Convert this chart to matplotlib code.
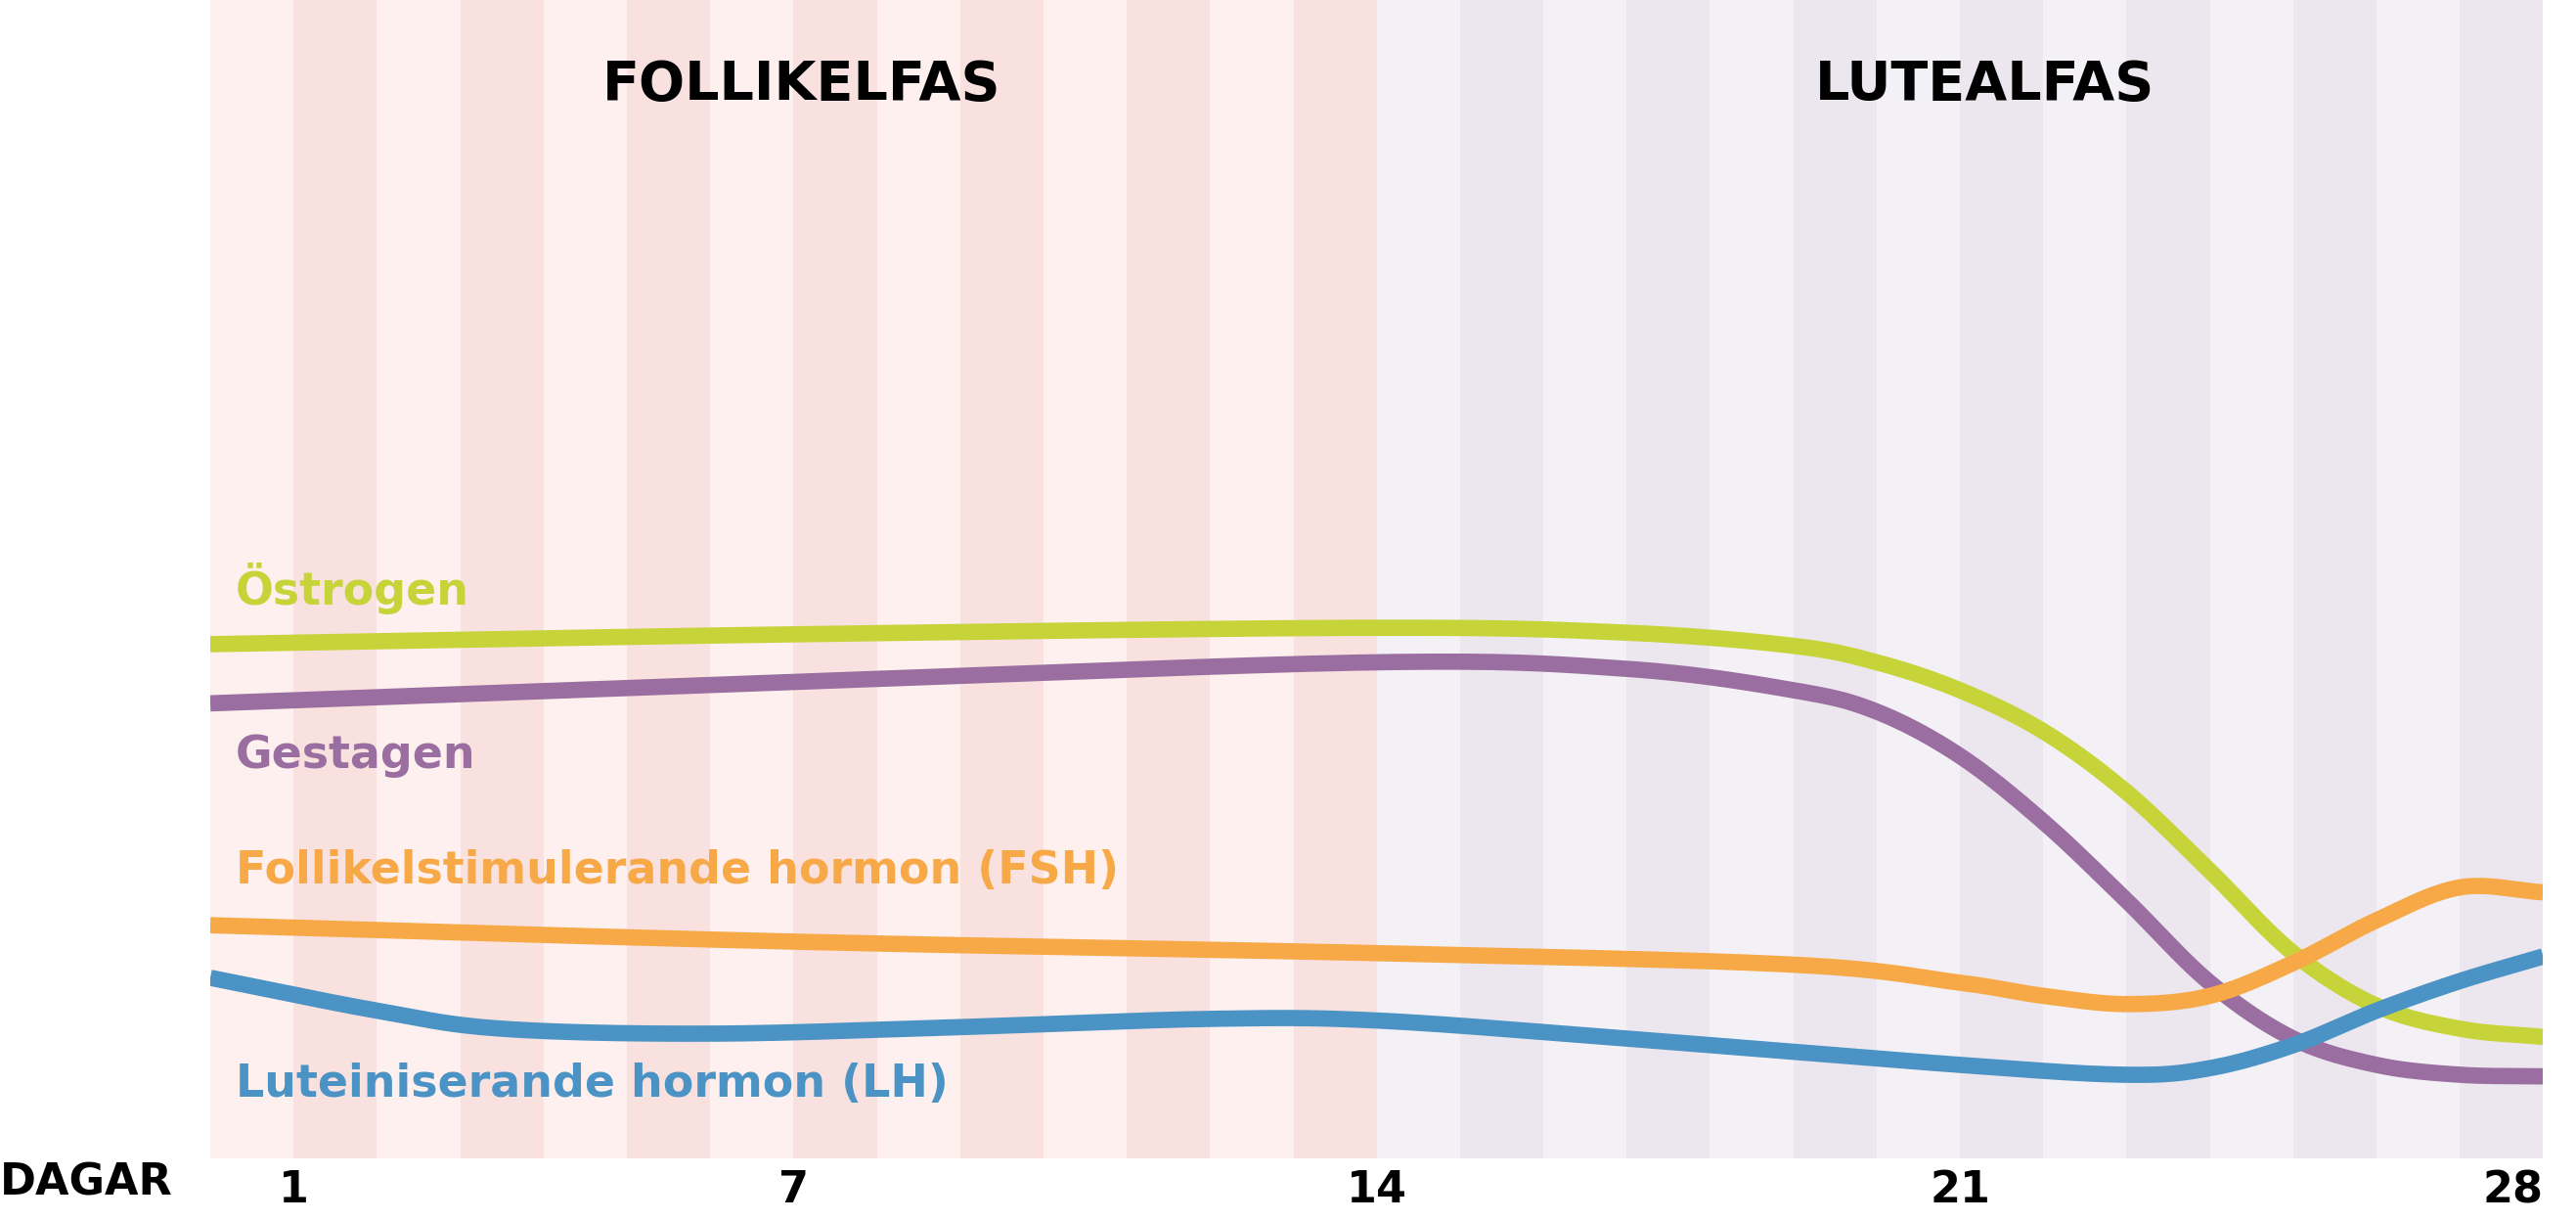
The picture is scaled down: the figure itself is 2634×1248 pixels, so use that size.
import numpy as np
import matplotlib
matplotlib.use("Agg")
import matplotlib.pyplot as plt

days = [1, 7, 14, 21, 28]
x_label = "DAGAR"
phases = ["FOLLIKELFAS", "LUTEALFAS"]

# hormone levels (screen-style scale, 0 = top, 705 = bottom)
estr_x = [0, 7, 14, 17, 19, 20, 21, 22, 23, 24, 25, 26, 27, 28]
estr_y = [392, 386, 382, 385, 393, 403, 420, 445, 482, 530, 580, 612, 626, 631]
gest_x = [0, 7, 14, 17, 19, 20, 21, 22, 23, 24, 25, 26, 27, 28]
gest_y = [428, 415, 403, 407, 420, 433, 460, 500, 548, 598, 632, 648, 654, 655]
fsh_x = [0, 7, 14, 19, 21, 22, 23, 24, 25, 26, 27, 28]
fsh_y = [563, 573, 580, 587, 598, 606, 611, 606, 586, 560, 540, 543]
lh_x = [0, 2, 3.5, 6, 9, 12, 14, 17, 21, 23, 24, 25, 26, 27, 28]
lh_y = [595, 615, 626, 629, 625, 620, 621, 632, 648, 654, 650, 636, 615, 597, 582]

series = [
    ("Östrogen", estr_x, estr_y, "#c6d43a", 358),
    ("Gestagen", gest_x, gest_y, "#9a6ea0", 460),
    ("Follikelstimulerande hormon (FSH)", fsh_x, fsh_y, "#f7a947", 530),
    ("Luteiniserande hormon (LH)", lh_x, lh_y, "#4a93c4", 660),
]

def smooth(xs, ys, n=20):
    xs = np.asarray(xs, float); ys = np.asarray(ys, float)
    px = np.concatenate([[2*xs[0]-xs[1]], xs, [2*xs[-1]-xs[-2]]])
    py = np.concatenate([[2*ys[0]-ys[1]], ys, [2*ys[-1]-ys[-2]]])
    ox, oy = [], []
    for i in range(1, len(px)-2):
        t = np.linspace(0, 1, n, endpoint=False)
        for P, out in ((px, ox), (py, oy)):
            p0, p1, p2, p3 = P[i-1], P[i], P[i+1], P[i+2]
            out.extend(0.5*((2*p1) + (-p0+p2)*t + (2*p0-5*p1+4*p2-p3)*t**2 + (-p0+3*p1-3*p2+p3)*t**3))
    ox.append(xs[-1]); oy.append(ys[-1])
    return np.array(ox), np.array(oy)

F = "DejaVu Sans"
fig = plt.figure(figsize=(26.34, 12.48), dpi=100)
ax = fig.add_axes([128/1568, 38/743, 1420/1568, 705/743])
ax.set_xlim(0, 28)
ax.set_ylim(705, 0)
for i in range(28):
    if i < 14:
        c = "#fdf0ef" if i % 2 == 0 else "#f9e1e0"
    else:
        c = "#f4f1f6" if i % 2 == 0 else "#ece6ef"
    ax.axvspan(i, i+1, color=c, lw=0)

for name, xs, ys, col, ty in series:
    sx, sy = smooth(xs, ys)
    ax.plot(sx, sy, color=col, lw=12, solid_capstyle="butt")
    ax.text(0.3, ty, name, color=col, fontsize=33, fontweight="bold",
            family=F, va="center", ha="left")

ax.text(7.1, 52, phases[0], fontsize=40, fontweight="bold", family=F, ha="center", va="center")
ax.text(21.3, 52, phases[1], fontsize=40, fontweight="bold", family=F, ha="center", va="center")

for s in ax.spines.values():
    s.set_visible(False)
ax.set_yticks([])
ax.set_xticks(days)
ax.set_xticklabels([str(d) for d in days], fontsize=32, fontweight="bold", family=F)
ax.tick_params(axis="x", length=0, pad=8)
for lbl in ax.get_xticklabels():
    if lbl.get_text() == "28":
        lbl.set_ha("right")
fig.text(0.0, 23/743, x_label, fontsize=32, fontweight="bold", family=F, va="center", ha="left")

fig.savefig("out.png", dpi=100, facecolor="white")
